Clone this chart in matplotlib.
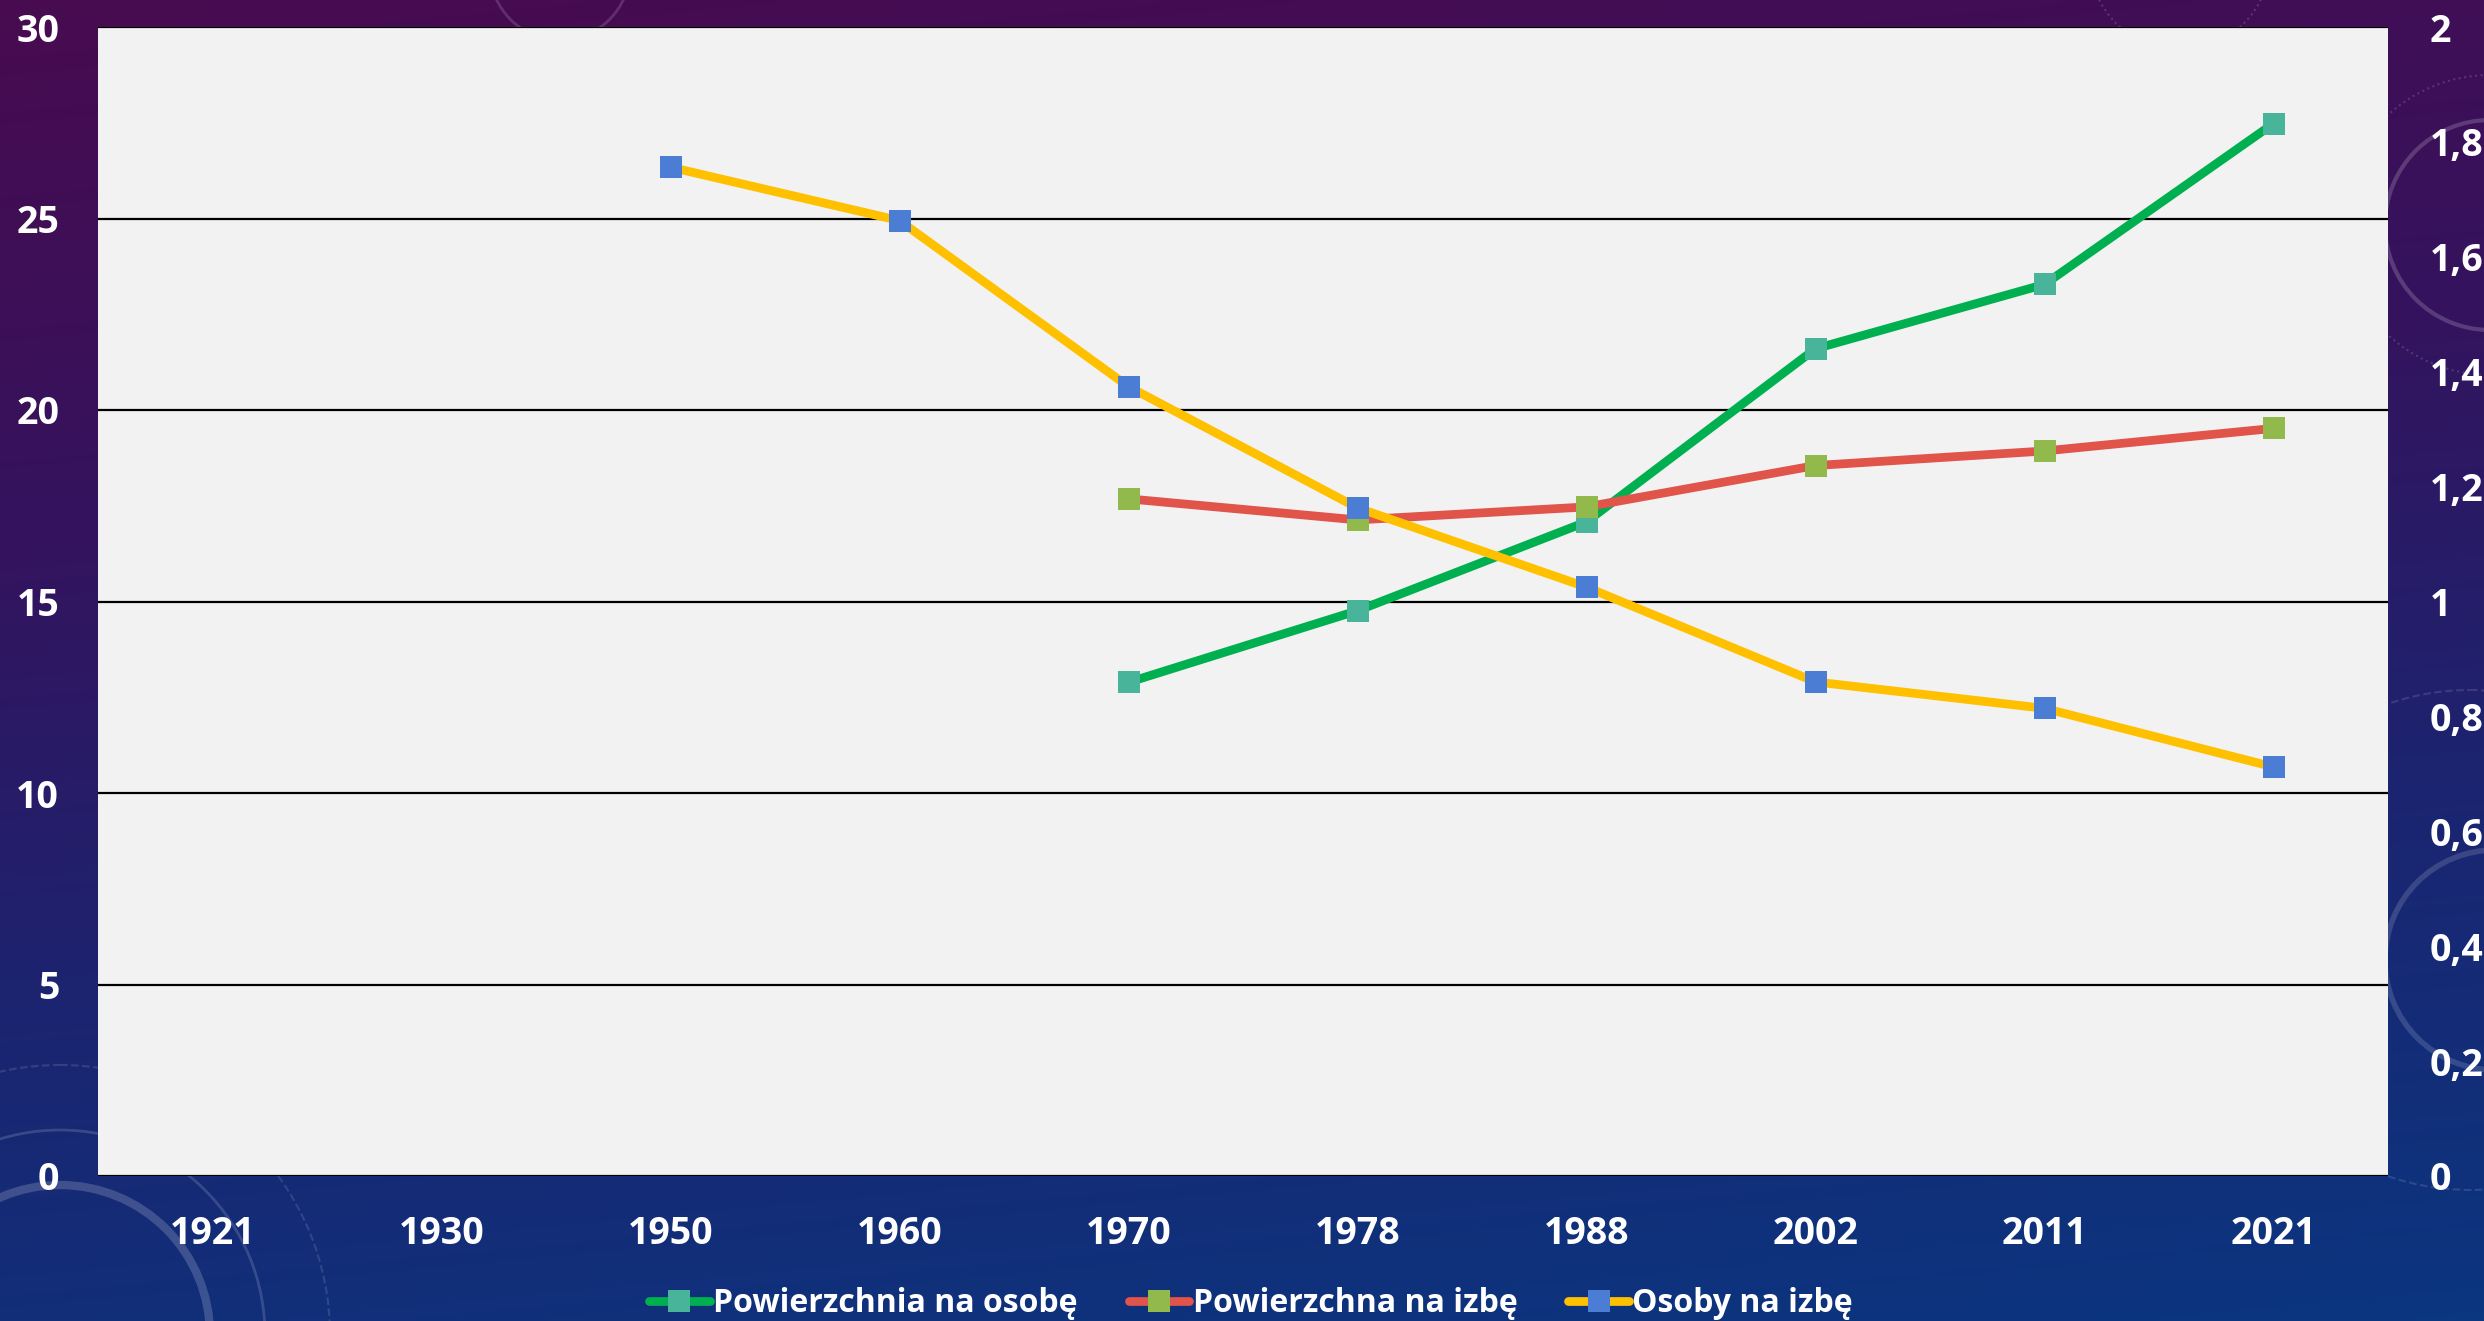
import numpy as np
import matplotlib
matplotlib.use("Agg")
from matplotlib import pyplot as plt
from matplotlib.patches import Circle
from matplotlib.colors import LinearSegmentedColormap

# data
years = ["1921", "1930", "1950", "1960", "1970", "1978", "1988", "2002", "2011", "2021"]
pow_na_osobe = [np.nan, np.nan, np.nan, np.nan, 12.89, 14.76, 17.08, 21.60, 23.28, 27.48]
pow_na_izbe = [np.nan, np.nan, np.nan, np.nan, 17.68, 17.13, 17.47, 18.55, 18.93, 19.52]
osoby_na_izbe = [np.nan, np.nan, 1.756, 1.663, 1.374, 1.163, 1.025, 0.860, 0.814, 0.712]

left_ticks = [0, 5, 10, 15, 20, 25, 30]
right_ticks = [0, 0.2, 0.4, 0.6, 0.8, 1.0, 1.2, 1.4, 1.6, 1.8, 2.0]

W, H = 2484, 1321
FONT = "Open Sans"

fig = plt.figure(figsize=(W / 100, H / 100), dpi=100)

# background gradient (purple -> blue)
bg = fig.add_axes([0, 0, 1, 1], zorder=-5)
yy, xx = np.mgrid[0:1:200j, 0:1:300j]
t = np.clip(0.85 * yy + 0.15 * xx, 0, 1)
cmap = LinearSegmentedColormap.from_list(
    "bg", [(0.0, "#480b50"), (0.35, "#34135e"), (0.65, "#1c2470"), (1.0, "#0b3680")])
bg.imshow(t, cmap=cmap, extent=[0, W, H, 0], aspect="auto", interpolation="bilinear")
bg.set_xlim(0, W)
bg.set_ylim(H, 0)
bg.axis("off")

# faint decorative rings
rings = [
    ((2490, 225), 105, 3, "-", 0.18), ((2490, 225), 150, 1.5, ":", 0.15),
    ((2495, 960), 110, 4, "-", 0.15), ((2470, 940), 250, 1.5, "--", 0.12),
    ((60, 1335), 150, 6, "-", 0.18), ((60, 1335), 205, 2, "-", 0.15),
    ((60, 1335), 270, 1.5, "--", 0.12), ((560, -30), 70, 2, "-", 0.15),
    ((2180, -40), 90, 1.5, ":", 0.15),
]
for c, r, lw, ls, a in rings:
    bg.add_patch(Circle(c, r, fill=False, ec="white", lw=lw, ls=ls, alpha=a))

ax = fig.add_axes([98 / W, 1 - 1176 / H, 2290 / W, 1149 / H])
ax.set_facecolor("#f2f2f2")
x = np.arange(len(years))

line_kw = dict(lw=6.3, marker="s", markersize=15.5, markeredgewidth=0, solid_capstyle="round")
l1, = ax.plot(x, pow_na_osobe, color="#00b050", markerfacecolor="#48b59a",
              label="Powierzchnia na osobę", **line_kw)
l2, = ax.plot(x, pow_na_izbe, color="#e0544a", markerfacecolor="#91b94b",
              label="Powierzchna na izbę", **line_kw)

ax.set_xlim(-0.5, len(years) - 0.5)
ax.set_ylim(0, 30)
ax.set_yticks(left_ticks)
ax.set_xticks(x)
ax.set_xticklabels(years)
ax.yaxis.grid(True, color="black", lw=1.6)
ax.set_axisbelow(True)
for s in ax.spines.values():
    s.set_visible(False)
ax.tick_params(axis="y", length=0, pad=28, labelcolor="white", labelsize=27)
ax.tick_params(axis="x", length=0, pad=28, labelcolor="white", labelsize=27)

ax2 = ax.twinx()
l3, = ax2.plot(x, osoby_na_izbe, color="#ffc000", markerfacecolor="#4a7dd3",
               label="Osoby na izbę", **line_kw)
ax2.set_ylim(0, 2)
ax2.set_yticks(right_ticks)
ax2.set_yticklabels([f"{v:g}".replace(".", ",") for v in right_ticks])
for s in ax2.spines.values():
    s.set_visible(False)
ax2.tick_params(axis="y", length=0, pad=30, labelcolor="white", labelsize=27)

for lab in ax.get_xticklabels() + ax.get_yticklabels() + ax2.get_yticklabels():
    lab.set_fontfamily(FONT)
    lab.set_fontweight("bold")

leg = fig.legend(handles=[l1, l2, l3], loc="center", ncol=3, frameon=False,
                 bbox_to_anchor=(1251 / W, 1 - 1304 / H),
                 prop={"family": FONT, "weight": "bold", "size": 23},
                 labelcolor="white", handlelength=1.9, handletextpad=0.1,
                 columnspacing=1.6, markerscale=1.0)

fig.savefig("out.png", dpi=100)
